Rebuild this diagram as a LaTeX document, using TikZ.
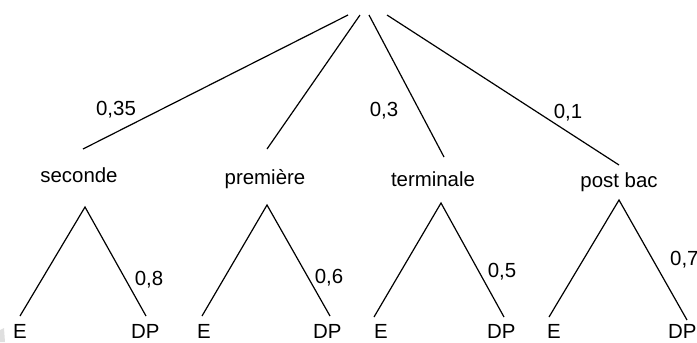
\documentclass[tikz,border=0pt]{standalone}
\usepackage{fontspec}
\setmainfont{Liberation Sans}
\begin{document}
\begin{tikzpicture}[x=1bp,y=-1bp,
  branch/.style={line width=1.2bp, black},
  lbl/.style={inner sep=0pt, anchor=base, font=\fontsize{20.5}{24}\selectfont},
  leaf/.style={inner sep=0pt, anchor=base west, font=\fontsize{20.5}{24}\selectfont}]
\useasboundingbox (0,0) rectangle (697,342);
% faint gray mark at bottom left
\fill[gray!25] (0,330) -- (4,328) -- (5,342) -- (0,342) -- cycle;
% top ends of the first-level branches
\coordinate (r1) at (348,15);
\coordinate (r2) at (360,15);
\coordinate (r3) at (369,15);
\coordinate (r4) at (387,15);
% lower ends of the first-level branches
\coordinate (s1) at (83,149);
\coordinate (p1) at (267,149);
\coordinate (t1) at (444,157);
\coordinate (b1) at (619,165);
% apexes of the sub-trees
\coordinate (s2) at (85,207);
\coordinate (p2) at (267,205);
\coordinate (t2) at (441,203);
\coordinate (b2) at (619,200);
% leaf ends
\coordinate (sE) at (20,316);  \coordinate (sD) at (146,316);
\coordinate (pE) at (202,316); \coordinate (pD) at (330,316);
\coordinate (tE) at (374,317); \coordinate (tD) at (504,317);
\coordinate (bE) at (549,317); \coordinate (bD) at (687,320);

\draw[branch] (r1) -- (s1);
\draw[branch] (r2) -- (p1);
\draw[branch] (r3) -- (t1);
\draw[branch] (r4) -- (b1);

\draw[branch] (sE) -- (s2) -- (sD);
\draw[branch] (pE) -- (p2) -- (pD);
\draw[branch] (tE) -- (t2) -- (tD);
\draw[branch] (bE) -- (b2) -- (bD);

% level-1 labels
\node[lbl] (sec) at (79,182) {seconde};
\node[lbl] (pre) at (265,184) {première};
\node[lbl] (ter) at (433,186) {terminale};
\node[lbl] (pb)  at (619,187) {post bac};

% probabilities
\node[lbl] (q1) at (116,115) {0,35};
\node[lbl] (q3) at (384,116) {0,3};
\node[lbl] (q4) at (568,118) {0,1};
\node[lbl] (qs) at (149,285) {0,8};
\node[lbl] (qp) at (329,283) {0,6};
\node[lbl] (qt) at (502,277) {0,5};
\node[leaf] (qb) at (670,265) {0,7};

% leaves
\node[leaf] (lsE) at (13,338)  {E};
\node[leaf] (lsD) at (131,338) {DP};
\node[leaf] (lpE) at (197,338) {E};
\node[leaf] (lpD) at (313,338) {DP};
\node[leaf] (ltE) at (374,338) {E};
\node[leaf] (ltD) at (487,338) {DP};
\node[leaf] (lbE) at (547,338) {E};
\node[leaf] (lbD) at (668,338) {DP};
\end{tikzpicture}
\end{document}
